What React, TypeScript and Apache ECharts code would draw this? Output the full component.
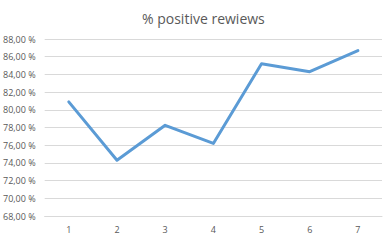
import React, { useEffect, useRef } from "react";
import * as echarts from "echarts";

const categories = ["1", "2", "3", "4", "5", "6", "7"];
const positivePct = [80.9, 74.3, 78.25, 76.2, 85.2, 84.3, 86.7];
const yMin = 68;
const yMax = 88;
const yStep = 2;

export default function App() {
  const ref = useRef<HTMLDivElement>(null);
  useEffect(() => {
    if (!ref.current) return;
    const chart = echarts.init(ref.current, undefined, { renderer: "svg" });
    chart.setOption({
      animation: false,
      backgroundColor: "#ffffff",
      title: {
        text: "% positive rewiews",
        left: 137,
        top: 6,
        textStyle: { fontFamily: "Open Sans", fontSize: 14, fontWeight: "normal", color: "#595959" },
      },
      grid: { left: 44, right: 1, top: 39, bottom: 24 },
      xAxis: {
        type: "category",
        data: categories,
        boundaryGap: true,
        axisLine: { show: true, lineStyle: { color: "#d9d9d9" } },
        axisTick: { show: false },
        axisLabel: { fontFamily: "Open Sans", fontSize: 9, color: "#595959", margin: 9 },
      },
      yAxis: {
        type: "value",
        min: yMin,
        max: yMax,
        interval: yStep,
        axisLine: { show: false },
        axisTick: { show: false },
        splitLine: { lineStyle: { color: "#d9d9d9", width: 1 } },
        axisLabel: {
          fontFamily: "Open Sans",
          fontSize: 9,
          color: "#595959",
          margin: 9,
          formatter: (v: number) => v.toFixed(2).replace(".", ",") + " %",
        },
      },
      series: [
        {
          type: "line",
          data: positivePct,
          symbol: "none",
          lineStyle: { color: "#5b9bd5", width: 3, join: "round", cap: "round" },
        },
      ],
    });
    return () => chart.dispose();
  }, []);
  return <div ref={ref} style={{ position: "absolute", left: 0, top: 0, width: 383, height: 240 }} />;
}
